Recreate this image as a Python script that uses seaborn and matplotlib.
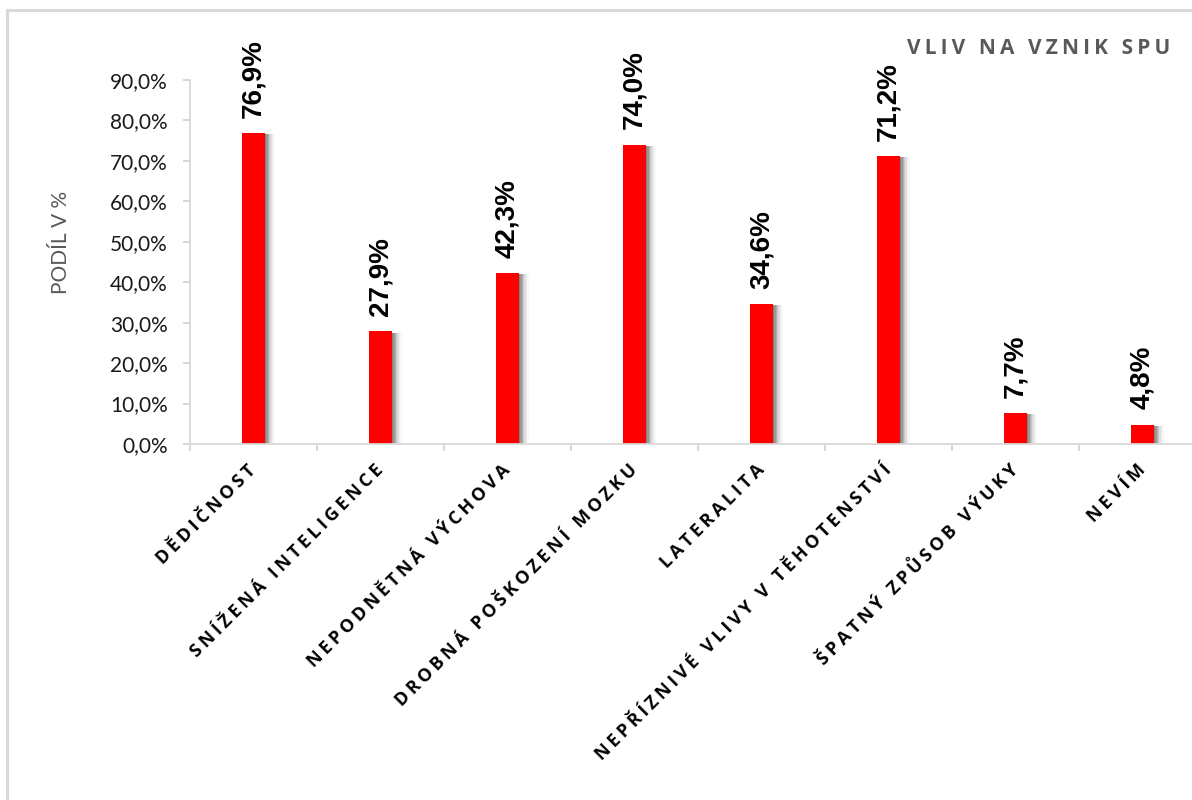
import matplotlib
matplotlib.use("Agg")
import matplotlib.pyplot as plt
import matplotlib.patheffects as pe
from matplotlib.lines import Line2D
import seaborn as sns
import pandas as pd

# Data
categories = [
    "DĚDIČNOST",
    "SNÍŽENÁ INTELIGENCE",
    "NEPODNĚTNÁ VÝCHOVA",
    "DROBNÁ POŠKOZENÍ MOZKU",
    "LATERALITA",
    "NEPŘÍZNIVÉ VLIVY V TĚHOTENSTVÍ",
    "ŠPATNÝ ZPŮSOB VÝUKY",
    "NEVÍM",
]
values = [76.9, 27.9, 42.3, 74.0, 34.6, 71.2, 7.7, 4.8]
y_ticks = [0, 10, 20, 30, 40, 50, 60, 70, 80, 90]
title = "VLIV NA VZNIK SPU"
y_title = "PODÍL V %"

THIN = "\u2009"  # thin space used for letter spacing


def spaced(s, sep=THIN):
    return sep.join(s)


sns.set_theme(style="white")
plt.rcParams["font.family"] = ["Open Sans", "DejaVu Sans"]

fig = plt.figure(figsize=(11.92, 8.0), dpi=100)
W, H = 1192, 800
x0, x1 = 190, 1206
y0, y1 = 444, 80
ax = fig.add_axes([x0 / W, 1 - y0 / H, (x1 - x0) / W, (y0 - y1) / H])

df = pd.DataFrame({"cat": categories, "val": values})
sns.barplot(data=df, x="cat", y="val", color="#FF0000", width=0.18,
            saturation=1, ax=ax)

# soft shadow on the right of each bar
shadow = []
for dx, a in [(1, 0.22), (2, 0.18), (3, 0.15), (4, 0.12), (5, 0.08),
              (6, 0.05), (7, 0.03)]:
    shadow.append(pe.SimplePatchShadow(offset=(dx, -1), shadow_rgbFace="#303030",
                                       alpha=a))
shadow.append(pe.Normal())
for p in ax.patches:
    p.set_edgecolor("none")
    p.set_path_effects(shadow)

ax.set_xlim(-0.5, len(categories) - 0.5)
ax.set_ylim(0, 90)

# value labels above bars
for i, v in enumerate(values):
    ax.annotate(f"{v:.1f}%".replace(".", ","), (i, v), xytext=(0, 11),
                textcoords="offset points", rotation=90, ha="center", va="bottom",
                fontsize=20, fontweight="bold", color="black",
                family=["Liberation Sans", "DejaVu Sans"])

# y axis
ax.set_yticks(y_ticks)
ax.set_yticklabels([f"{t:.1f}%".replace(".", ",") for t in y_ticks],
                   fontsize=15, color="#1a1a1a", family=["Lato", "DejaVu Sans"])
ax.tick_params(axis="y", which="major", length=5, width=1.2, color="#D0D0D0",
               pad=11, left=True)

# x axis: labels at bar centres, tick marks at category boundaries
ax.set_xticks(range(len(categories)))
ax.set_xticklabels([spaced(c) for c in categories], rotation=45, ha="right",
                   va="center", rotation_mode="anchor", fontsize=13,
                   fontweight="bold", color="black")
ax.tick_params(axis="x", which="major", length=0, pad=17)
ax.set_xticks([i - 0.5 for i in range(len(categories) + 1)], minor=True)
ax.tick_params(axis="x", which="minor", length=5, width=1.2, color="#D0D0D0",
               bottom=True)

ax.set_xlabel("")
ax.set_ylabel(y_title, fontsize=15, color="#595959",
              family=["Lato", "DejaVu Sans"])
ax.yaxis.set_label_coords(-0.117, 0.555)

for side in ["top", "right"]:
    ax.spines[side].set_visible(False)
for side in ["left", "bottom"]:
    ax.spines[side].set_color("#D9D9D9")
    ax.spines[side].set_linewidth(1.3)

# chart title
fig.text(1170 / W, 1 - 48 / H, spaced(title), ha="right", va="center",
         fontsize=15, fontweight="bold", color="#595959")

# chart area border
bx, by = 7 / W, 1 - 10 / H
fig.add_artist(Line2D([bx, bx], [0, by], color="#D9D9D9", lw=2.2,
                      transform=fig.transFigure))
fig.add_artist(Line2D([bx, 1], [by, by], color="#D9D9D9", lw=2.2,
                      transform=fig.transFigure))

fig.savefig("out.png", dpi=100)
